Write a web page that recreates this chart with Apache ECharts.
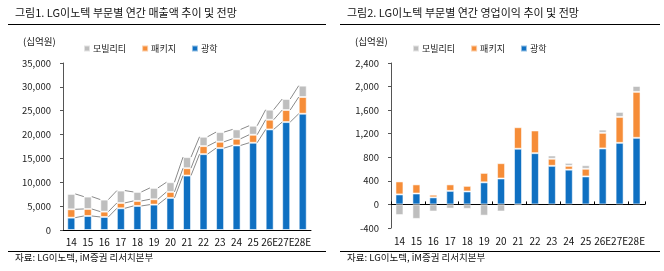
<!DOCTYPE html>
<html>
<head>
<meta charset="utf-8">
<script src="https://cdn.jsdelivr.net/npm/echarts@6/dist/echarts.min.js"></script>
<style>
  html, body { margin: 0; padding: 0; background: #fff; }
  #chart { width: 664px; height: 271px; }
</style>
</head>
<body>
<div id="chart"></div>
<script>
// 연도 (E = 전망)
const years = ["14", "15", "16", "17", "18", "19", "20", "21", "22", "23", "24", "25", "26E", "27E", "28E"];

// 그림1: 매출액 (십억원)
const salesOptics = [2590, 2940, 2730, 4550, 5040, 5320, 6720, 11410, 15900, 17160, 17720, 18280, 21080, 22620, 24370];
const salesPackage = [1750, 1470, 1120, 1120, 1050, 1120, 1260, 1540, 1680, 1330, 1400, 1680, 2030, 2520, 3500];
const salesMobility = [3220, 2590, 2520, 2590, 1890, 2380, 2030, 2320, 1960, 2030, 1960, 1890, 2100, 2310, 2380];

// 그림2: 영업이익 (십억원)
const opOptics = [170, 185, 120, 230, 220, 375, 440, 945, 870, 655, 590, 475, 950, 1045, 1130];
const opPackage = [220, 155, 45, 110, 95, 160, 260, 365, 385, 120, 65, 130, 265, 440, 780];
const opMobility = [-180, -245, -120, -70, -75, -190, -120, -20, 10, 55, 50, 60, 55, 85, 100];

const salesTicks = { min: 0, max: 35000, interval: 5000 };
const opTicks = { min: -400, max: 2400, interval: 400 };

const COLOR_OPTICS = "#0F70C2";
const COLOR_PACKAGE = "#F68D38";
const COLOR_MOBILITY = "#BEBEBE";
const FONT = "'Noto Sans CJK KR', 'Noto Sans', sans-serif";

// 누적값 (시리즈 라인용)
const cumLevels = [];
for (let i = 0; i < years.length; i++) {
  const a = salesOptics[i];
  const b = a + salesPackage[i];
  const c = b + salesMobility[i];
  cumLevels.push([a, b, c]);
}
const seriesLineData = [];
for (let i = 0; i < years.length - 1; i++) {
  for (let k = 0; k < 3; k++) {
    seriesLineData.push([i, cumLevels[i][k], cumLevels[i + 1][k]]);
  }
}

const BAR_W = 8;

const barStyle = (color) => ({
  color: color,
  borderColor: "rgba(255,255,255,0.55)",
  borderWidth: 1
});

const chart = echarts.init(document.getElementById("chart"));

const makeText = (text, left, top, size) => ({
  type: "text",
  left: left,
  top: top,
  style: { text: text, font: size + "px " + FONT, fill: "#111" }
});

const hLine = (x1, x2, y, w) => ({
  type: "line",
  shape: { x1: x1, y1: y, x2: x2, y2: y },
  style: { stroke: "#000", lineWidth: w }
});

const valueAxis = (gridIndex, ticks) => ({
  type: "value",
  gridIndex: gridIndex,
  min: ticks.min,
  max: ticks.max,
  interval: ticks.interval,
  axisLine: { show: true, lineStyle: { color: "#555", width: 1 } },
  axisTick: { show: true, length: 3, lineStyle: { color: "#555" } },
  axisLabel: { color: "#222", fontSize: 9.5, fontFamily: FONT, margin: 12 },
  splitLine: { show: false }
});

const legendCfg = (left) => ({
  left: left, top: 44, padding: 0,
  data: ["모빌리티", "패키지", "광학"],
  icon: "rect", itemWidth: 6, itemHeight: 6, itemGap: 15,
  textStyle: { fontSize: 9, color: "#222", fontFamily: FONT, padding: [0, 0, 0, -2] },
  selectedMode: false
});

const option = {
  animation: false,
  textStyle: { fontFamily: FONT },
  graphic: [
    makeText("그림1. LG이노텍 부문별 연간 매출액 추이 및 전망", 15, 7, 11),
    makeText("그림2. LG이노텍 부문별 연간 영업이익 추이 및 전망", 347, 7, 11),
    hLine(8, 326, 24.5, 1.2),
    hLine(340, 660, 24.5, 1.2),
    makeText("(십억원)", 23, 37, 9.5),
    makeText("(십억원)", 355, 37, 9.5),
    hLine(8, 326, 251.5, 1),
    hLine(340, 660, 251.5, 1),
    makeText("자료: LG이노텍, iM증권 리서치본부", 15, 253, 9.5),
    makeText("자료: LG이노텍, iM증권 리서치본부", 347, 253, 9.5)
  ],
  legend: [legendCfg(83), legendCfg(412)],
  grid: [
    { left: 63, top: 63, width: 248, height: 167 },
    { left: 391, top: 63, width: 254, height: 165 }
  ],
  xAxis: [
    {
      type: "category", gridIndex: 0, data: years,
      axisLine: { lineStyle: { color: "#000", width: 1 } },
      axisTick: { inside: true, length: 3, lineStyle: { color: "#000" } },
      axisLabel: { interval: 0, color: "#111", fontSize: 10, fontFamily: FONT, margin: 7 }
    },
    {
      type: "category", gridIndex: 1, data: years, position: "bottom",
      axisLine: { show: false, onZero: false },
      axisTick: { show: false },
      axisLabel: { interval: 0, color: "#111", fontSize: 10, fontFamily: FONT, margin: 8 }
    },
    {
      type: "category", gridIndex: 1, data: years, position: "top",
      axisLine: { show: true, onZero: true, lineStyle: { color: "#000", width: 1 } },
      axisTick: { show: true, inside: false, length: 3, lineStyle: { color: "#000" } },
      axisLabel: { show: false }
    }
  ],
  yAxis: [valueAxis(0, salesTicks), valueAxis(1, opTicks)],
  series: [
    { name: "광학", type: "bar", stack: "s", xAxisIndex: 0, yAxisIndex: 0, barWidth: BAR_W, itemStyle: barStyle(COLOR_OPTICS), data: salesOptics },
    { name: "패키지", type: "bar", stack: "s", xAxisIndex: 0, yAxisIndex: 0, barWidth: BAR_W, itemStyle: barStyle(COLOR_PACKAGE), data: salesPackage },
    { name: "모빌리티", type: "bar", stack: "s", xAxisIndex: 0, yAxisIndex: 0, barWidth: BAR_W, itemStyle: barStyle(COLOR_MOBILITY), data: salesMobility },
    {
      name: "seriesLines", type: "custom", xAxisIndex: 0, yAxisIndex: 0,
      silent: true, z: 3,
      encode: { x: 0, y: [1, 2] },
      renderItem: function (params, api) {
        const i = api.value(0);
        const p1 = api.coord([i, api.value(1)]);
        const p2 = api.coord([i + 1, api.value(2)]);
        return {
          type: "line",
          shape: { x1: p1[0] + BAR_W / 2, y1: p1[1], x2: p2[0] - BAR_W / 2, y2: p2[1] },
          style: { stroke: "#8a8a8a", lineWidth: 1 }
        };
      },
      data: seriesLineData
    },
    { name: "광학", type: "bar", stack: "o", xAxisIndex: 1, yAxisIndex: 1, barWidth: BAR_W, itemStyle: barStyle(COLOR_OPTICS), data: opOptics },
    { name: "패키지", type: "bar", stack: "o", xAxisIndex: 1, yAxisIndex: 1, barWidth: BAR_W, itemStyle: barStyle(COLOR_PACKAGE), data: opPackage },
    { name: "모빌리티", type: "bar", stack: "o", xAxisIndex: 1, yAxisIndex: 1, barWidth: BAR_W, itemStyle: barStyle(COLOR_MOBILITY), data: opMobility }
  ]
};

chart.setOption(option);
</script>
</body>
</html>
